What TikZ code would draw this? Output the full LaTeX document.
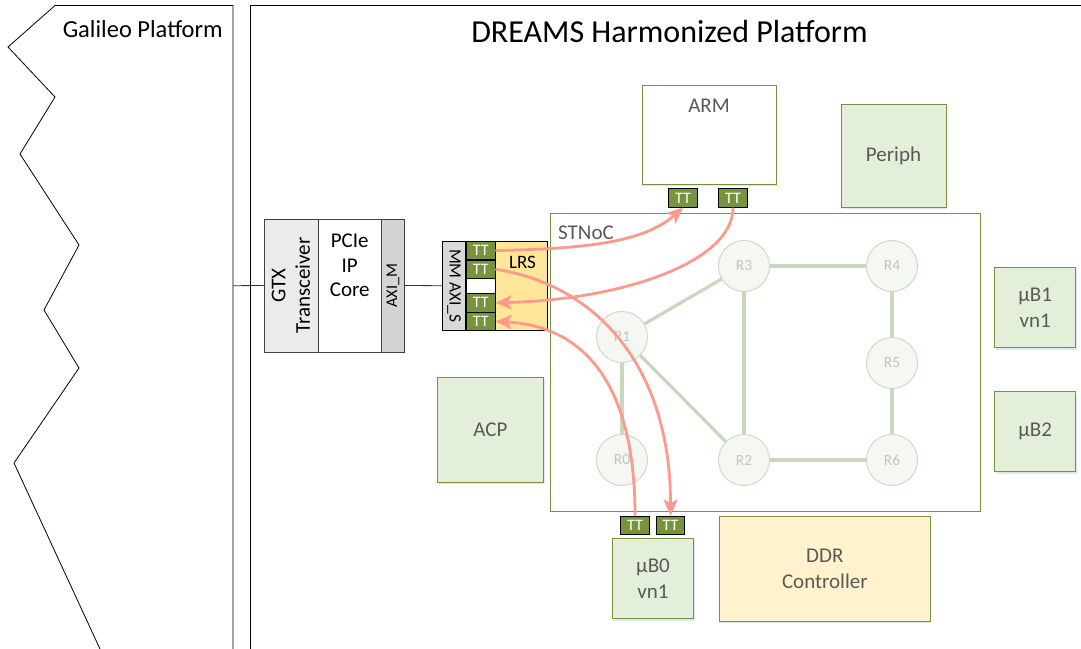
\documentclass[tikz,border=0pt]{standalone}
\usepackage{fontspec}
\setmainfont{Carlito}
\usetikzlibrary{arrows.meta,shadows}

\definecolor{edgegreen}{HTML}{76923C}
\definecolor{fillgreen}{HTML}{E3EFD9}
\definecolor{ttgreen}{HTML}{77933C}
\definecolor{ddrfill}{HTML}{FFF2CC}
\definecolor{lrsfill}{HTML}{FFE699}
\definecolor{labelgray}{HTML}{595959}
\definecolor{routerfill}{HTML}{F5F8F2}
\definecolor{routeredge}{HTML}{CCDCC0}
\definecolor{routertext}{HTML}{C4C4C4}
\definecolor{linkgreen}{HTML}{C8D8BC}
\definecolor{flowred}{HTML}{FF998C}
\definecolor{gtxgray}{HTML}{EBEBEB}
\definecolor{axigray}{HTML}{D4D4D4}
\definecolor{mmgray}{HTML}{D9D9D9}
\definecolor{shadowblue}{HTML}{BDD0EA}

\tikzset{
  softshadow/.style={drop shadow={fill=shadowblue, opacity=0.5, shadow xshift=1pt, shadow yshift=-2pt}},
  block/.style={draw=edgegreen, line width=0.9pt, inner sep=0pt, align=center,
    text=labelgray, font=\fontsize{21}{25.5}\selectfont},
  greenblock/.style={block, fill=fillgreen, softshadow},
  ttbox/.style={draw=black, line width=0.9pt, fill=ttgreen, text=white, inner sep=0pt,
    minimum width=28.5pt, minimum height=18.5pt, font=\fontsize{16}{16}\selectfont},
  router/.style={circle, draw=routeredge, line width=1pt, fill=routerfill,
    minimum size=51pt, inner sep=0pt, text=routertext, font=\fontsize{15.5}{15.5}\selectfont},
  link/.style={draw=linkgreen, line width=3.2pt},
  ipblock/.style={draw=black!75, line width=0.8pt, inner sep=0pt},
  iptext/.style={inner sep=0pt, align=center, font=\fontsize{21}{24.5}\selectfont},
  wire/.style={draw=black!80, line width=0.8pt},
  flow/.style={draw=flowred, line width=2.8pt, -{Stealth[length=16pt,width=14pt,inset=3.5pt]}},
}

\begin{document}
\begin{tikzpicture}[x=1pt, y=-1pt]
\useasboundingbox (0,0) rectangle (1081,648);

% Galileo platform outline with its torn left edge
\draw[line width=0.8pt] (100,649) -- (14,463) -- (79,368) -- (44,310) -- (79,245)
  -- (20,154) -- (55,97) -- (8,47) -- (55,5.5) -- (233,5.5) -- (233,649);
\node[anchor=base east, inner sep=0pt, font=\fontsize{24.5}{24.5}\selectfont] (galtitle)
  at (223,37.3) {Galileo Platform};

% DREAMS platform frame
\draw[line width=0.8pt] (250,649) -- (250,5.5) -- (1082,5.5);
\node[anchor=base, inner sep=0pt, font=\fontsize{32}{32}\selectfont] (dreamstitle)
  at (669.5,42) {DREAMS Harmonized Platform};

% PCIe bridge
\node[ipblock, fill=gtxgray, minimum width=54pt, minimum height=133pt] (gtx) at (291,285.5) {};
\node[iptext, rotate=90] (gtxtext) at (gtx.center) {GTX\\Transceiver};
\node[ipblock, fill=white, minimum width=63.5pt, minimum height=133pt] (pcie) at (349.75,285.5) {};
\node[iptext] (pcietext) at (349.75,265.5) {PCIe\\IP\\Core};
\node[ipblock, fill=axigray, minimum width=23pt, minimum height=133pt] (axim) at (393,285.5) {};
\node[iptext, rotate=90, font=\fontsize{16.3}{16.3}\selectfont] (axitext) at (axim.center) {AXI\_M};

\coordinate (galedge) at (233,285.7);
\draw[wire] (galedge) -- (gtx.west);

% LRS with its AXI slave port and TT interfaces
\node[draw=black, line width=0.9pt, fill=mmgray, inner sep=0pt, minimum width=23.4pt, minimum height=88.7pt] (mmaxi) at (454,285.7) {};
\node[iptext, rotate=-90, font=\fontsize{17.3}{17.3}\selectfont] (mmtext) at (mmaxi.center) {MM AXI\_S};
\node[draw=black, line width=0.9pt, fill=white, inner sep=0pt, minimum width=28.7pt, minimum height=88.7pt] (ttcol) at (480.7,285.7) {};
\node[draw=black, line width=0.9pt, fill=lrsfill, inner sep=0pt, minimum width=52.3pt, minimum height=88.7pt] (lrs) at (521.2,285.7) {};
\node[iptext, font=\fontsize{19}{19}\selectfont] (lrstext) at (522.5,262.5) {LRS};
\node[ttbox] (lrstt1) at (480.7,250.6) {TT};
\node[ttbox] (lrstt2) at (480.7,269.3) {TT};
\node[ttbox] (lrstt3) at (480.7,302.8) {TT};
\node[ttbox] (lrstt4) at (480.7,321.3) {TT};
\draw[wire] (axim.east) -- (mmaxi.west);

% Network on chip
\node[draw=edgegreen, line width=0.9pt, fill=white, inner sep=0pt, minimum width=430pt, minimum height=298pt] (stnoc) at (765,362) {};
\node[anchor=base west, inner sep=0pt, text=labelgray, font=\fontsize{21}{21}\selectfont] (stnoctitle) at (558,239) {STNoC};

\node[router] (r3) at (744,266) {R3};
\node[router] (r4) at (892,266) {R4};
\node[router] (r1) at (622,337) {R1};
\node[router] (r5) at (892,363) {R5};
\node[router] (r0) at (622,460) {R0};
\node[router] (r2) at (744,460) {R2};
\node[router] (r6) at (892,460) {R6};
\draw[link] (r1) -- (r3);
\draw[link] (r1) -- (r0);
\draw[link] (r1) -- (r2);
\draw[link] (r3) -- (r2);
\draw[link] (r3) -- (r4);
\draw[link] (r4) -- (r5);
\draw[link] (r5) -- (r6);
\draw[link] (r2) -- (r6);

% Processing elements and peripherals
\node[block, fill=white, softshadow, minimum width=134pt, minimum height=99pt] (arm) at (709,134.5) {};
\node[anchor=base, inner sep=0pt, text=labelgray, font=\fontsize{21}{21}\selectfont] (armtext) at (709,112) {ARM};
\node[ttbox] (armtt1) at (683,198) {TT};
\node[ttbox] (armtt2) at (733,198) {TT};

\node[greenblock, minimum width=105pt, minimum height=103pt] (periph) at (893.5,155.5) {Periph};
\node[greenblock, minimum width=106pt, minimum height=105pt] (acp) at (490.5,429.5) {ACP};
\node[greenblock, minimum width=81pt, minimum height=80.4pt] (ub1) at (1035.2,307.5) {µB1\\vn1};
\node[greenblock, minimum width=81pt, minimum height=80.4pt] (ub2) at (1035.2,431.7) {µB2};
\node[greenblock, minimum width=81.4pt, minimum height=80.4pt] (ub0) at (653,578.5) {µB0\\vn1};
\node[ttbox] (ubtt1) at (635,525.3) {TT};
\node[ttbox] (ubtt2) at (670.5,525.3) {TT};
\node[block, fill=ddrfill, softshadow, minimum width=211pt, minimum height=104.6pt] (ddr) at (824.8,569) {DDR\\Controller};

% Traffic between the LRS and the cores
\draw[flow] (lrstt1.east) .. controls +(90,-2) and +(-40,35) .. (armtt1.south);
\draw[flow] (armtt2.south) .. controls +(0,55) and +(125,-3) .. (lrstt3.east);
\draw[flow] (lrstt2.east) .. controls +(100,15) and +(0,-150) .. (ubtt2.north);
\draw[flow] (ubtt1.north) .. controls +(0,-130) and +(90,5) .. (lrstt4.east);
\end{tikzpicture}
\end{document}
